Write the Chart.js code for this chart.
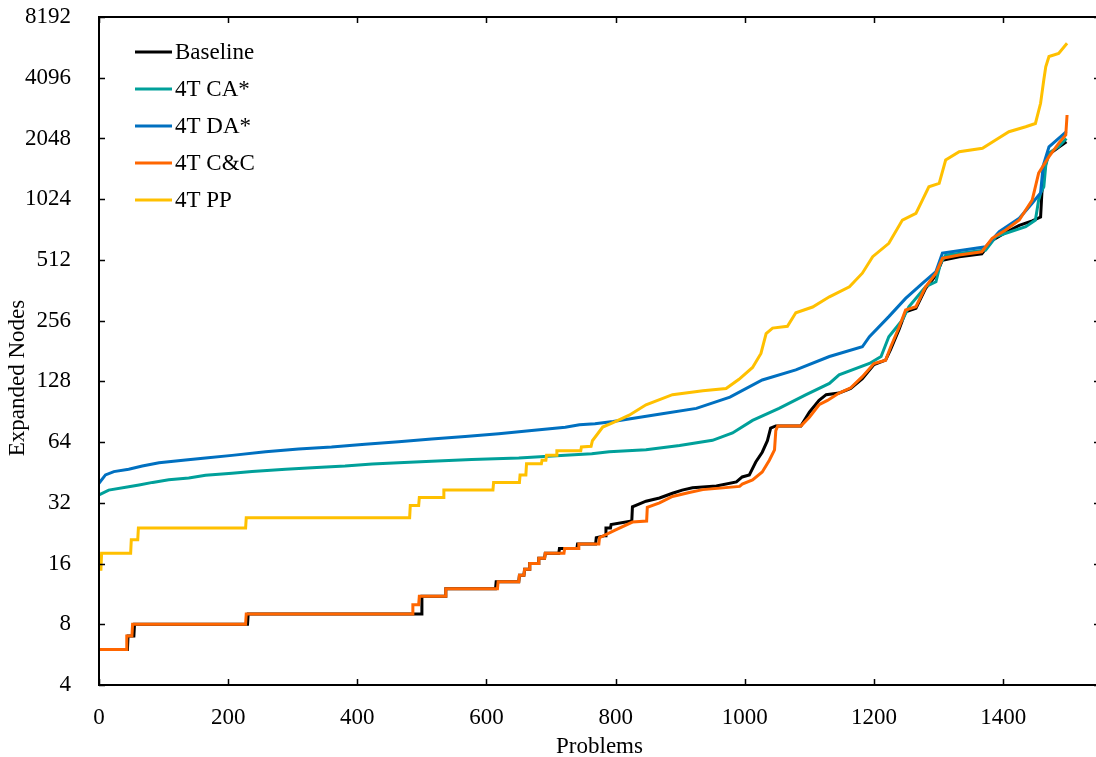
<!DOCTYPE html>
<html>
<head>
<meta charset="utf-8">
<script src="https://cdn.jsdelivr.net/npm/chart.js@4.4.1/dist/chart.umd.min.js"></script>
<style>
  html, body { margin: 0; padding: 0; background: #fff; overflow: hidden; width: 1096px; height: 757px; }
  canvas { display: block; }
</style>
</head>
<body>
<canvas id="nodesChart" width="1100" height="757"></canvas>
<script>
// tick labels
const xTicks = [0, 200, 400, 600, 800, 1000, 1200, 1400];
const yTicks = [4, 8, 16, 32, 64, 128, 256, 512, 1024, 2048, 4096, 8192];

const seriesNames = ['Baseline', '4T CA*', '4T DA*', '4T C&C', '4T PP'];
const seriesColors = ['#000000', '#00A09A', '#0070C0', '#FF6600', '#FFC000'];

// [problem, expanded nodes] (sorted per series)
const baseline = [
    [0, 6], [44, 6], [45, 7], [54, 7], [55, 8], [230, 8], [231, 9], [499, 9], [500, 11], [536, 11],
    [537, 12], [614, 12], [615, 13], [650, 13], [651, 14], [658, 14], [659, 15], [666, 15], [667, 16],
    [680, 16], [681, 17], [690, 17], [691, 18], [712, 18], [713, 19], [740, 19], [741, 20], [769, 20],
    [770, 21.5], [784, 22], [785, 24], [792, 24], [793, 25], [825, 26], [826, 30.6], [847, 32.6],
    [868, 33.8], [888, 35.7], [903, 37], [919, 38], [956, 38.8], [987, 40.6], [996, 43], [1007, 44],
    [1017, 51], [1027, 57], [1035, 65], [1040, 75], [1048, 77], [1087, 77], [1100, 90], [1115, 103],
    [1126, 110], [1146, 112], [1164, 118], [1182, 132], [1200, 155], [1218, 163], [1226, 185],
    [1239, 232], [1249, 283], [1265, 295], [1280, 370], [1296, 430], [1306, 510], [1332, 530],
    [1367, 548], [1383, 640], [1404, 700], [1425, 760], [1445, 800], [1458, 835], [1460, 1100],
    [1465, 1500], [1470, 1700], [1486, 1850], [1498, 1973]
];
const ca = [
    [0, 35], [15, 37], [46, 38.4], [62, 39.2], [83, 40.4], [108, 41.6], [139, 42.5], [165, 43.8],
    [206, 44.9], [237, 45.7], [289, 46.9], [330, 47.8], [381, 48.7], [423, 49.9], [464, 50.6],
    [515, 51.5], [577, 52.5], [650, 53.4], [722, 55], [763, 56], [790, 57.3], [847, 58.6], [899, 61.5],
    [950, 65.3], [981, 71], [1012, 82], [1053, 94], [1095, 110], [1131, 125], [1146, 138], [1193, 157],
    [1211, 170], [1223, 213], [1244, 258], [1254, 300], [1280, 377], [1296, 399], [1303, 492],
    [1311, 541], [1373, 573], [1389, 668], [1435, 748], [1450, 807], [1455, 1014], [1458, 1098],
    [1463, 1180], [1466, 1500], [1471, 1734], [1486, 1864], [1498, 2048]
];
const da = [
    [0, 40], [10, 44], [23, 45.7], [46, 46.9], [67, 48.7], [93, 50.6], [134, 52.2], [165, 53.4],
    [206, 55], [258, 57.3], [309, 59.1], [360, 60.5], [412, 62.5], [464, 64.3], [515, 66.3],
    [567, 68.2], [619, 70.4], [670, 73.1], [722, 75.9], [744, 78], [768, 79], [796, 81], [872, 88.5],
    [925, 94], [977, 107], [1027, 130], [1079, 146], [1131, 170], [1182, 190], [1193, 213],
    [1223, 268], [1249, 330], [1275, 392], [1296, 448], [1306, 554], [1373, 595], [1394, 706],
    [1425, 823], [1445, 977], [1458, 1100], [1462, 1500], [1471, 1860], [1498, 2212]
];
const cc = [
    [0, 6], [42, 6], [43, 7], [51, 7], [52, 8], [227, 8], [228, 9], [485, 9], [486, 10], [495, 10],
    [496, 11], [536, 11], [537, 12], [617, 12], [618, 13], [650, 13], [651, 14], [658, 14], [659, 15],
    [666, 15], [667, 16], [680, 16], [681, 17], [690, 17], [691, 18], [720, 18], [721, 19], [742, 19],
    [743, 20], [774, 20], [775, 21.5], [800, 23.5], [826, 25.7], [848, 26], [849, 30.4], [868, 32],
    [888, 34.4], [914, 36], [935, 37.2], [992, 38.6], [996, 39.6], [1012, 41.6], [1027, 45.5],
    [1038, 52], [1046, 58.5], [1048, 73], [1051, 77], [1087, 77], [1100, 85], [1115, 98], [1128, 103],
    [1146, 112], [1164, 119], [1182, 135], [1200, 157], [1218, 163], [1226, 190], [1239, 238],
    [1249, 289], [1265, 300], [1280, 377], [1296, 440], [1306, 521], [1332, 541], [1367, 562],
    [1383, 655], [1404, 720], [1425, 807], [1435, 905], [1445, 1014], [1455, 1380], [1471, 1664],
    [1486, 1937], [1497, 2130], [1499, 2676]
];
const pp = [
    [0, 15], [3, 15], [4, 18], [49, 18], [50, 21], [60, 21], [61, 24], [227, 24], [228, 27], [481, 27],
    [482, 31], [495, 31], [496, 34], [533, 34], [534, 37], [610, 37], [611, 40.4], [651, 40.4],
    [652, 44], [661, 44], [662, 50], [685, 50], [686, 52], [692, 52], [693, 55], [708, 55], [709, 58],
    [746, 58], [747, 60.5], [762, 61], [764, 65], [780, 76], [796, 80], [821, 87], [847, 98], [888, 110],
    [935, 115], [971, 118], [991, 131], [1012, 150], [1025, 176], [1033, 221], [1043, 235], [1066, 240],
    [1079, 280], [1105, 299], [1131, 336], [1162, 377], [1182, 440], [1198, 531], [1223, 619],
    [1244, 807], [1265, 871], [1275, 1014], [1285, 1180], [1301, 1226], [1311, 1601], [1332, 1760],
    [1368, 1832], [1389, 2020], [1409, 2212], [1435, 2340], [1450, 2430], [1458, 3060], [1463, 4000],
    [1466, 4640], [1471, 5220], [1486, 5410], [1499, 6070]
];

const allSeries = [baseline, ca, da, cc, pp];
const font = { family: "'Liberation Serif', 'Times New Roman', serif", size: 23 };

// box, inward ticks, legend and y title
const decor = {
    id: 'decor',
    afterDraw(chart) {
        const { ctx, chartArea: a, scales: { x, y } } = chart;
        ctx.save();
        ctx.strokeStyle = '#000';
        ctx.lineWidth = 2;
        ctx.strokeRect(a.left, a.top, a.right - a.left, a.bottom - a.top);
        ctx.lineWidth = 1.5;
        ctx.beginPath();
        xTicks.forEach(v => {
            const px = Math.round(x.getPixelForValue(v)) + 0.5;
            ctx.moveTo(px, a.bottom); ctx.lineTo(px, a.bottom - 6);
            ctx.moveTo(px, a.top); ctx.lineTo(px, a.top + 6);
        });
        yTicks.forEach(v => {
            const py = Math.round(y.getPixelForValue(v)) + 0.5;
            ctx.moveTo(a.left, py); ctx.lineTo(a.left + 6, py);
            ctx.moveTo(a.right, py); ctx.lineTo(a.right - 6, py);
        });
        ctx.stroke();

        ctx.font = font.size + 'px ' + font.family;
        ctx.fillStyle = '#000';
        ctx.textBaseline = 'middle';
        ctx.textAlign = 'left';
        chart.data.datasets.forEach((ds, i) => {
            const ly = 52 + i * 37;
            ctx.strokeStyle = ds.borderColor;
            ctx.lineWidth = 3;
            ctx.beginPath();
            ctx.moveTo(135, ly); ctx.lineTo(172, ly);
            ctx.stroke();
            ctx.fillText(ds.label, 175, ly + 1);
        });

        ctx.translate(18, 378);
        ctx.rotate(-Math.PI / 2);
        ctx.textAlign = 'center';
        ctx.fillText('Expanded Nodes', 0, 0);
        ctx.restore();
    }
};

const chart = new Chart(document.getElementById('nodesChart'), {
    type: 'line',
    data: {
        datasets: allSeries.map((s, i) => ({
            label: seriesNames[i],
            data: s.map(p => ({ x: p[0], y: p[1] })),
            borderColor: seriesColors[i],
            backgroundColor: seriesColors[i],
            borderWidth: 3,
            pointRadius: 0,
            tension: 0,
            order: 5 - i
        }))
    },
    options: {
        responsive: false,
        animation: false,
        layout: { padding: { top: 17, right: 0, left: 0, bottom: 0 } },
        plugins: { legend: { display: false }, tooltip: { enabled: false } },
        scales: {
            x: {
                type: 'linear',
                min: 0,
                max: 1550,
                grid: { display: false },
                border: { display: false },
                afterBuildTicks: s => { s.ticks = xTicks.map(v => ({ value: v })); },
                afterFit: s => { s.height = 72; s.paddingLeft = 0; s.paddingRight = 0; },
                ticks: { color: '#000', font: font, padding: 11, maxRotation: 0, callback: v => String(v) },
                title: { display: true, text: 'Problems', color: '#000', font: font, padding: { top: 0, bottom: -4 } }
            },
            y: {
                type: 'logarithmic',
                min: 4,
                max: 8192,
                grid: { display: false },
                border: { display: false },
                afterBuildTicks: s => { s.ticks = yTicks.map(v => ({ value: v })); },
                afterFit: s => { s.width = 99; s.paddingTop = 0; s.paddingBottom = 0; },
                ticks: { color: '#000', font: font, padding: 20, callback: v => String(v) }
            }
        }
    },
    plugins: [decor]
});
</script>
</body>
</html>
